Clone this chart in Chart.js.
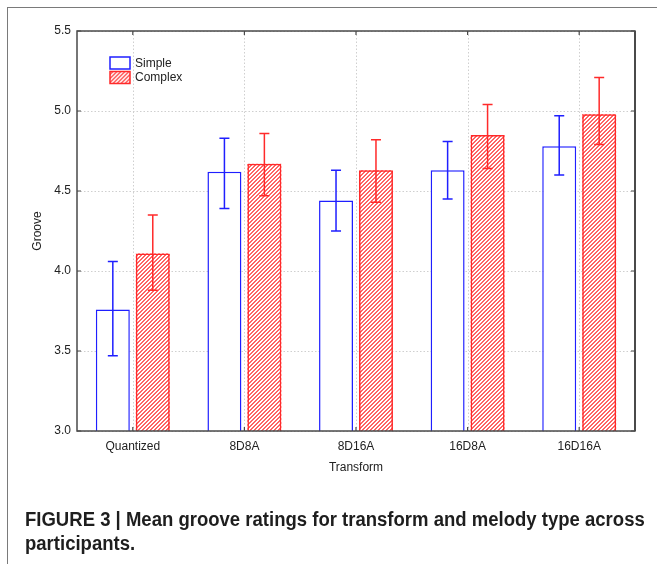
<!DOCTYPE html>
<html>
<head>
<meta charset="utf-8">
<script src="https://cdn.jsdelivr.net/npm/chart.js@4.4.1/dist/chart.umd.min.js"></script>
<style>
  html, body { margin: 0; padding: 0; background: #fff; }
  #wrap { position: relative; width: 657px; height: 564px; overflow: hidden; }
  #frame { position: absolute; left: 7px; top: 7px; width: 700px; height: 600px;
           border-left: 1.5px solid #7a7a7a; border-top: 1.5px solid #7a7a7a; }
  #chart { position: absolute; left: 0; top: 0; }
  #caption { position: absolute; left: 25px; top: 507px; font-family: "Liberation Sans", Arial, sans-serif;
             font-weight: bold; font-size: 19.5px; line-height: 24px; color: #1e1e1e; white-space: nowrap;
             transform: scaleX(0.95); transform-origin: 0 0; }
</style>
</head>
<body>
<div id="wrap">
  <div id="frame"></div>
  <canvas id="chart" width="657" height="564"></canvas>
  <div id="caption">FIGURE 3 | Mean groove ratings for transform and melody type across<br>participants.</div>
</div>
<script>
const categories = ['Quantized', '8D8A', '8D16A', '16D8A', '16D16A'];
const simpleMean = [3.76, 4.62, 4.44, 4.63, 4.78];
const simpleLow = [3.47, 4.39, 4.25, 4.45, 4.60];
const simpleHigh = [4.06, 4.83, 4.63, 4.81, 4.97];
const complexMean = [4.11, 4.67, 4.63, 4.85, 4.98];
const complexLow = [3.88, 4.47, 4.43, 4.64, 4.79];
const complexHigh = [4.35, 4.86, 4.82, 5.04, 5.21];
const yTicks = [3.0, 3.5, 4.0, 4.5, 5.0, 5.5];

const BLUE = '#1f1fff';
const RED = '#ff2a2a';

const ctx = document.getElementById('chart').getContext('2d');

// diagonal "////" hatch tile, drawn pixel by pixel (2px wide stripe)
function hatch(size, bg, fg) {
    const c = document.createElement('canvas');
    c.width = size; c.height = size;
    const g = c.getContext('2d');
    g.fillStyle = bg;
    g.fillRect(0, 0, size, size);
    g.fillStyle = fg;
    for (let i = 0; i < size; i++) {
        g.fillRect(i, size - 1 - i, 1, 1);
        g.fillRect((i + 1) % size, size - 1 - i, 1, 1);
    }
    return ctx.createPattern(c, 'repeat');
}

const barHatch = hatch(4, '#ffffff', '#ff6464');
const legendHatch = hatch(4, '#ffe0e0', '#ff7070');

const errors = [[simpleLow, simpleHigh], [complexLow, complexHigh]];

const frameAndErrors = {
    id: 'frameAndErrors',
    beforeDatasetsDraw(chart) {
        const { ctx, chartArea: a, scales: { x, y } } = chart;
        ctx.save();
        ctx.strokeStyle = '#cfcfcf';
        ctx.lineWidth = 1;
        ctx.setLineDash([1.5, 2]);
        yTicks.forEach(v => {
            const py = Math.round(y.getPixelForValue(v)) + 0.5;
            ctx.beginPath(); ctx.moveTo(a.left, py); ctx.lineTo(a.right, py); ctx.stroke();
        });
        categories.forEach((c, i) => {
            const px = Math.round(x.getPixelForValue(i)) + 0.5;
            ctx.beginPath(); ctx.moveTo(px, a.top); ctx.lineTo(px, a.bottom); ctx.stroke();
        });
        ctx.setLineDash([]);
        // hatch fill for the Complex bars, taken from the bar elements
        ctx.fillStyle = barHatch;
        chart.getDatasetMeta(1).data.forEach(bar => {
            const p = bar.getProps(['x', 'y', 'base', 'width'], true);
            ctx.fillRect(p.x - p.width / 2, p.y, p.width, p.base - p.y);
        });
        ctx.restore();
    },
    afterDatasetsDraw(chart) {
        const { ctx, chartArea: a, scales: { x, y } } = chart;
        ctx.save();
        chart.data.datasets.forEach((ds, di) => {
            const meta = chart.getDatasetMeta(di);
            ctx.strokeStyle = ds.borderColor;
            ctx.lineWidth = 1.5;
            meta.data.forEach((bar, i) => {
                const lo = y.getPixelForValue(errors[di][0][i]);
                const hi = y.getPixelForValue(errors[di][1][i]);
                const bx = bar.x;
                ctx.beginPath();
                ctx.moveTo(bx, lo); ctx.lineTo(bx, hi);
                ctx.moveTo(bx - 5, lo); ctx.lineTo(bx + 5, lo);
                ctx.moveTo(bx - 5, hi); ctx.lineTo(bx + 5, hi);
                ctx.stroke();
            });
        });
        // plot box
        ctx.strokeStyle = '#4a4a4a';
        ctx.lineWidth = 1.5;
        ctx.strokeRect(a.left, a.top, a.right - a.left, a.bottom - a.top);
        ctx.lineWidth = 2;
        ctx.beginPath(); ctx.moveTo(a.right, a.top); ctx.lineTo(a.right, a.bottom); ctx.stroke();
        // inward ticks
        ctx.lineWidth = 1.2;
        ctx.beginPath();
        yTicks.forEach(v => {
            const py = y.getPixelForValue(v);
            ctx.moveTo(a.left, py); ctx.lineTo(a.left + 4, py);
            ctx.moveTo(a.right, py); ctx.lineTo(a.right - 4, py);
        });
        categories.forEach((c, i) => {
            const px = x.getPixelForValue(i);
            ctx.moveTo(px, a.top); ctx.lineTo(px, a.top + 4);
            ctx.moveTo(px, a.bottom); ctx.lineTo(px, a.bottom - 4);
        });
        ctx.stroke();
        // legend
        const lx = a.left + 33, ly = a.top + 26;
        chart.data.datasets.forEach((ds, di) => {
            const by = ly + di * 14.5;
            ctx.fillStyle = di === 0 ? '#ffffff' : legendHatch;
            ctx.fillRect(lx, by, 20, 12);
            ctx.strokeStyle = ds.borderColor;
            ctx.lineWidth = 1.5;
            ctx.strokeRect(lx, by, 20, 12);
            ctx.fillStyle = '#222';
            ctx.font = '12px "Liberation Sans", Arial, sans-serif';
            ctx.textBaseline = 'middle';
            ctx.fillText(ds.label, lx + 25, by + 6.5);
        });
        ctx.restore();
    }
};

new Chart(ctx, {
    type: 'bar',
    data: {
        labels: categories,
        datasets: [
            { label: 'Simple', data: simpleMean, base: 3, backgroundColor: '#ffffff',
              borderColor: BLUE, borderWidth: 1.5 },
            { label: 'Complex', data: complexMean, base: 3, backgroundColor: 'rgba(0,0,0,0)',
              borderColor: RED, borderWidth: 1.5 }
        ]
    },
    options: {
        responsive: false,
        animation: false,
        devicePixelRatio: 1,
        categoryPercentage: 0.716,
        barPercentage: 0.85,
        layout: { padding: { left: 30, top: 31, right: 22, bottom: 84 } },
        plugins: { legend: { display: false }, tooltip: { enabled: false } },
        scales: {
            x: {
                grid: { display: false, drawTicks: false, offset: false },
                border: { display: false },
                ticks: { color: '#222', padding: 8, font: { family: 'Liberation Sans', size: 12 } },
                title: { display: true, text: 'Transform', color: '#222', padding: { top: 0, bottom: 5 },
                         font: { family: 'Liberation Sans', size: 12 } },
                afterFit(s) { s.height = 49; }
            },
            y: {
                min: 3, max: 5.5,
                grid: { display: false, drawTicks: false },
                border: { display: false },
                ticks: { stepSize: 0.5, color: '#222', padding: 6,
                         font: { family: 'Liberation Sans', size: 12 },
                         callback: v => Number(v).toFixed(1) },
                title: { display: true, text: 'Groove', color: '#222', padding: { top: 0, bottom: 0 },
                         font: { family: 'Liberation Sans', size: 12 } },
                afterFit(s) { s.width = 47; }
            }
        }
    },
    plugins: [frameAndErrors]
});
</script>
</body>
</html>
